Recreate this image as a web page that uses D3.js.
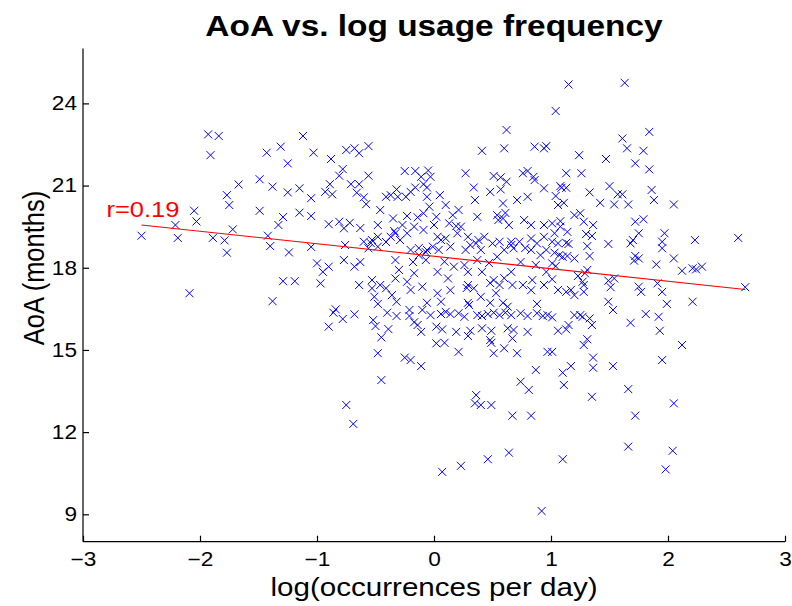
<!DOCTYPE html>
<html>
<head>
<meta charset="utf-8">
<script src="https://cdn.jsdelivr.net/npm/d3@7"></script>
<style>
  html, body { margin: 0; padding: 0; background: #fff; }
  svg { display: block; }
  text { font-family: "Liberation Sans", Arial, Helvetica, sans-serif; }
</style>
</head>
<body>
<svg id="chart" width="792" height="606"></svg>
<script>
// log10 usage frequency (occurrences per day) for each word
const logFreq = [
  -1.93,-1.84,-1.91,-1.43,-1.31,-1.25,-1.12,-1.67,-1.49,-1.38,-1.15,-1.77,-1.75,-1.25,-1.05,-2.05,-2.03,-1.49,-1.29,-1.15,-1.05,
  -2.21,-2.19,-2.50,-1.89,-1.79,-1.72,-1.77,-1.42,-1.40,-1.33,-1.24,-1.05,-1.29,-1.19,-2.09,-1.38,
  -1.03,-0.88,-0.75,-0.68,-0.64,-0.56,-0.78,-0.81,-0.89,-0.93,-0.87,-0.71,-0.64,-0.56,-0.66,-0.60,-0.25,-0.16,-0.05,-0.11,-0.09,-0.06,-0.16,-0.32,-0.37,-0.41,-0.31,-0.24,-0.20,-0.06,
  0.62,0.41,0.60,0.86,0.94,0.96,-0.03,0.27,0.51,0.57,0.62,0.76,0.80,0.85,0.86,0.94,0.34,0.35,0.48,0.57,0.05,0.80,0.71,
  1.15,1.63,1.04,1.84,1.61,1.65,1.79,1.24,1.47,1.72,1.84,1.13,1.26,1.08,1.09,1.13,1.04,1.06,1.11,1.33,1.50,1.57,1.61,1.86,1.88,1.42,1.54,1.66,2.05,1.20,1.25,1.28,1.36,1.01,1.08,1.08,1.72,1.79,
  1.03,1.14,1.30,1.35,1.75,1.97,1.01,1.06,1.13,1.15,1.31,1.49,1.68,1.70,1.95,1.95,2.23,2.60,1.03,1.07,1.10,1.14,1.20,1.33,1.72,1.75,1.71,2.05,1.01,1.04,1.31,1.90,2.12,2.21,2.24,2.29,1.23,1.29,1.01,1.27,1.28,1.49,1.54,1.51,1.75,1.77,1.91,1.95,2.66,1.06,1.13,1.17,1.20,1.28,1.49,1.53,1.99,2.21,1.01,1.20,1.25,1.27,1.33,1.35,1.68,1.81,1.92,1.06,1.13,1.15,1.93,1.31,1.28,2.12,1.01,1.36,1.36,1.53,1.95,1.17,1.10,1.11,1.35,1.66,
  2.05,1.72,1.66,2.04,1.10,1.98,
  -0.75,-0.69,0.35,0.40,0.49,0.67,0.83,0.07,0.23,0.46,0.64,0.92,
  -0.84,-0.86,-0.78,-0.68,-0.90,-0.48,-0.32,-0.40,-0.32,-0.52,-0.50,-0.39,-0.45,-0.21,-0.21,-0.10,-0.06,-0.03,-0.17,-0.14,-0.11,-0.48,-0.25,-0.20,-0.11,-0.45,
  0.06,0.29,0.30,0.48,0.59,0.63,0.88,0.06,0.10,0.14,0.21,0.26,0.37,0.41,0.46,0.51,0.56,0.61,0.66,0.74,0.80,0.88,0.93,0.97,0.02,0.07,0.19,0.29,0.31,0.41,0.49,0.63,0.68,0.67,0.80,0.02,0.09,0.21,0.48,0.49,0.51,0.60,0.71,0.97,0.87,0.74,0.81,0.36,
  -0.58,-0.46,-0.90,-0.81,-0.72,-0.77,-0.48,-0.35,-0.23,-0.14,-0.09,-0.04,-0.60,-0.53,-0.48,-0.56,-0.48,-0.37,-0.33,-0.29,-0.23,-0.17,-0.09,-0.20,-0.13,-0.06,-0.07,-0.77,-0.68,-1.00,-0.95,-0.90,-0.97,-0.64,-0.53,-0.53,-0.46,-0.41,-0.33,-0.23,-0.20,-0.10,-0.30,-0.17,-0.51,-0.36,
  0.59,0.02,0.16,0.13,0.23,0.37,0.54,0.59,0.64,0.77,0.83,0.94,0.03,0.10,0.20,0.29,0.36,0.43,0.50,0.56,0.66,0.73,0.83,0.88,0.94,-0.01,0.04,0.14,0.27,0.40,0.60,0.68,0.83,0.96,0.09,0.17,0.26,0.37,0.54,0.91,0.03,0.12,0.29,0.41,0.66,0.96,0.29,0.34,0.51,0.56,0.67,0.76,0.84,0.94,0.03,0.40,0.53,
  0.55,0.61,0.06,0.31,0.38,0.66,0.78,0.28,0.48,0.60,-0.34,-0.41,-0.54,-0.13,-0.07,-0.18,-0.27,-0.63,0.10,0.21,0.19,0.87,0.74,0.47,0.83,0.14,-0.33,0.00,-0.76,-0.63
];

// age of acquisition (months) for the same words
const aoaMonths = [
  22.87,22.81,22.11,22.20,22.42,21.81,22.81,21.04,21.23,20.96,20.90,20.65,20.29,20.75,20.54,20.08,19.69,20.08,19.85,20.01,19.89,
  19.56,19.09,19.17,19.09,19.00,19.40,18.55,19.17,18.79,19.56,18.56,18.76,17.51,17.51,17.07,16.78,
  22.20,21.97,22.30,22.36,22.18,22.44,21.60,21.36,21.05,20.77,20.68,21.05,21.05,21.36,20.74,20.57,21.53,21.53,21.55,21.32,21.05,20.93,20.93,20.86,20.65,20.59,20.59,20.59,20.77,20.59,
  23.03,22.27,22.36,22.42,22.36,22.44,21.32,21.45,21.35,21.30,21.14,21.45,21.53,21.32,21.20,20.90,20.93,20.47,20.77,20.86,20.65,20.59,20.47,
  24.69,24.75,23.72,22.96,22.72,22.36,22.27,22.11,21.97,21.81,21.59,21.45,21.45,20.98,20.92,20.92,20.62,20.29,20.37,20.75,20.98,20.68,20.68,20.84,20.47,20.37,20.31,20.31,20.31,19.92,19.99,19.68,19.56,19.62,19.70,19.50,19.68,19.77,
  19.26,19.31,19.23,19.16,19.26,19.26,18.95,18.89,18.91,18.87,18.79,18.87,18.89,19.01,18.95,18.71,19.01,19.09,18.55,18.46,18.40,18.43,18.34,18.43,18.43,18.34,18.26,18.34,18.16,18.06,17.92,18.12,17.89,17.98,17.94,18.04,17.70,17.80,17.58,17.49,17.37,17.53,17.61,17.29,17.31,17.12,17.43,17.12,17.29,17.19,17.12,17.19,17.00,17.12,16.76,16.46,16.68,16.76,16.19,16.27,16.27,16.21,16.15,15.91,15.99,16.31,16.21,15.70,15.75,15.91,15.70,15.39,15.18,15.18,14.93,14.72,14.35,14.41,14.63,14.41,14.17,13.72,13.29,13.57,
  13.05,12.60,11.47,11.32,11.01,10.64,
  12.99,12.30,13.05,12.99,12.99,12.60,12.60,10.55,10.77,11.01,11.25,9.12,
  16.48,16.36,16.13,16.30,15.85,16.68,16.76,16.36,16.24,16.09,15.87,15.76,15.46,16.46,16.24,16.46,16.72,16.27,16.01,15.91,15.66,14.88,14.72,14.63,14.41,13.90,
  16.76,16.72,16.64,16.72,16.72,16.58,16.68,16.31,16.39,16.31,16.34,16.21,16.27,16.24,16.31,16.36,16.27,16.36,16.27,16.34,16.24,16.34,16.24,16.27,15.85,15.75,15.66,15.51,15.70,15.79,15.70,15.79,15.73,15.42,15.66,15.24,15.26,14.93,15.36,15.26,14.88,15.06,14.88,14.93,14.27,13.84,13.54,13.35,
  20.32,20.11,19.59,19.68,19.64,19.44,19.56,19.80,19.89,19.84,19.99,20.23,18.95,19.01,19.13,18.71,18.77,19.13,19.26,19.01,19.26,19.50,19.38,18.65,18.46,18.65,18.28,18.28,18.04,18.16,17.85,18.04,17.43,17.37,17.55,17.25,17.37,17.25,17.61,17.49,17.19,17.31,17.92,17.80,16.94,17.00,
  20.35,19.86,19.92,19.62,19.50,19.86,19.92,19.80,19.56,19.74,19.56,19.56,19.13,19.07,19.26,19.13,18.89,19.13,18.89,18.95,18.95,18.95,19.07,18.89,19.13,18.77,18.65,18.77,18.65,18.65,18.65,18.71,18.65,18.65,18.22,18.04,18.10,18.28,18.40,18.46,17.85,17.61,17.85,17.85,17.85,17.85,17.37,17.25,17.55,17.37,17.37,17.37,17.55,17.37,17.07,16.94,17.07,
  19.74,20.00,19.01,18.83,19.01,18.83,18.72,17.26,17.44,17.62,19.34,18.94,18.90,18.72,18.57,18.21,19.56,19.45,20.29,20.11,19.52,18.10,18.21,18.17,17.18,17.18,18.28,19.56,18.83,18.21
];

// least-squares fit of AoA on log frequency
const fitIntercept = 18.42;
const fitSlope = -0.456;
const corrLabel = "r=0.19";
const corrLabelPos = [-2.8, 19.86];

const xTicks = [-3, -2, -1, 0, 1, 2, 3];
const yTicks = [9, 12, 15, 18, 21, 24];
const xDomain = [-3, 3];
const yDomain = [8, 26];

const titleText = "AoA vs. log usage frequency";
const xLabelText = "log(occurrences per day)";
const yLabelText = "AoA (months)";

// text in this figure is set slightly wide
const textStretch = 1.16;
const FONT = "'Liberation Sans', Arial, Helvetica, sans-serif";

const svg = d3.select("#chart");
const plot = { left: 83, right: 785, top: 48.6, bottom: 541.7 };

const x = d3.scaleLinear().domain(xDomain).range([plot.left, plot.right]);
const y = d3.scaleLinear().domain(yDomain).range([plot.bottom, plot.top]);

const fmt = v => (v < 0 ? "\u2212" + Math.abs(v) : String(v));

function widen(sel, factor) {
  sel.each(function () {
    const w = this.getComputedTextLength();
    d3.select(this).attr("textLength", w * factor).attr("lengthAdjust", "spacingAndGlyphs");
  });
}

// axes: ticks point inward, no box
const xAxis = d3.axisBottom(x).tickValues(xTicks).tickSizeInner(-6).tickSizeOuter(0).tickPadding(10).tickFormat(fmt);
const yAxis = d3.axisLeft(y).tickValues(yTicks).tickSizeInner(-6).tickSizeOuter(0).tickPadding(6).tickFormat(fmt);

const gx = svg.append("g").attr("transform", `translate(0,${plot.bottom})`).call(xAxis);
const gy = svg.append("g").attr("transform", `translate(${plot.left},0)`).call(yAxis);

[gx, gy].forEach(g => {
  g.select(".domain").attr("stroke", "#000").attr("stroke-width", 1.2);
  g.selectAll(".tick line").attr("stroke", "#000").attr("stroke-width", 1.2);
  g.selectAll(".tick text")
    .attr("fill", "#000")
    .style("font-size", "19.5px")
    .style("font-family", FONT)
    .call(widen, textStretch);
});
gy.select(".domain").attr("d", `M0,${plot.bottom}V${plot.top}`);
gx.select(".domain").attr("d", `M${plot.left},0H${plot.right}`);

// scatter markers (x shape)
const pts = logFreq.map((v, i) => [v, aoaMonths[i]]);
const r = 4;
svg.append("g")
  .selectAll("path")
  .data(pts)
  .join("path")
  .attr("d", d => {
    const cx = x(d[0]), cy = y(d[1]);
    return `M${cx - r},${cy - r}L${cx + r},${cy + r}M${cx - r},${cy + r}L${cx + r},${cy - r}`;
  })
  .attr("fill", "none")
  .attr("stroke", "#0000ff")
  .attr("stroke-width", 1);

// regression line across the observed range
const xMin = d3.min(logFreq), xMax = d3.max(logFreq);
svg.append("line")
  .attr("x1", x(xMin)).attr("y1", y(fitIntercept + fitSlope * xMin))
  .attr("x2", x(xMax)).attr("y2", y(fitIntercept + fitSlope * xMax))
  .attr("stroke", "#ff0000")
  .attr("stroke-width", 1.1);

svg.append("text")
  .attr("x", x(corrLabelPos[0]))
  .attr("y", y(corrLabelPos[1]))
  .attr("fill", "#ff0000")
  .style("font-size", "22px")
  .text(corrLabel)
  .call(widen, textStretch);

// title and axis labels
svg.append("text")
  .attr("x", (plot.left + plot.right) / 2)
  .attr("y", 36)
  .attr("text-anchor", "middle")
  .style("font-size", "28.8px")
  .style("font-weight", "bold")
  .text(titleText)
  .call(widen, textStretch);

svg.append("text")
  .attr("x", (plot.left + plot.right) / 2)
  .attr("y", 596)
  .attr("text-anchor", "middle")
  .style("font-size", "25.5px")
  .text(xLabelText)
  .call(widen, textStretch);

svg.append("text")
  .attr("transform", `translate(44,268) scale(${textStretch},1) rotate(-90)`)
  .attr("text-anchor", "middle")
  .style("font-size", "25.5px")
  .text(yLabelText);
</script>
</body>
</html>
